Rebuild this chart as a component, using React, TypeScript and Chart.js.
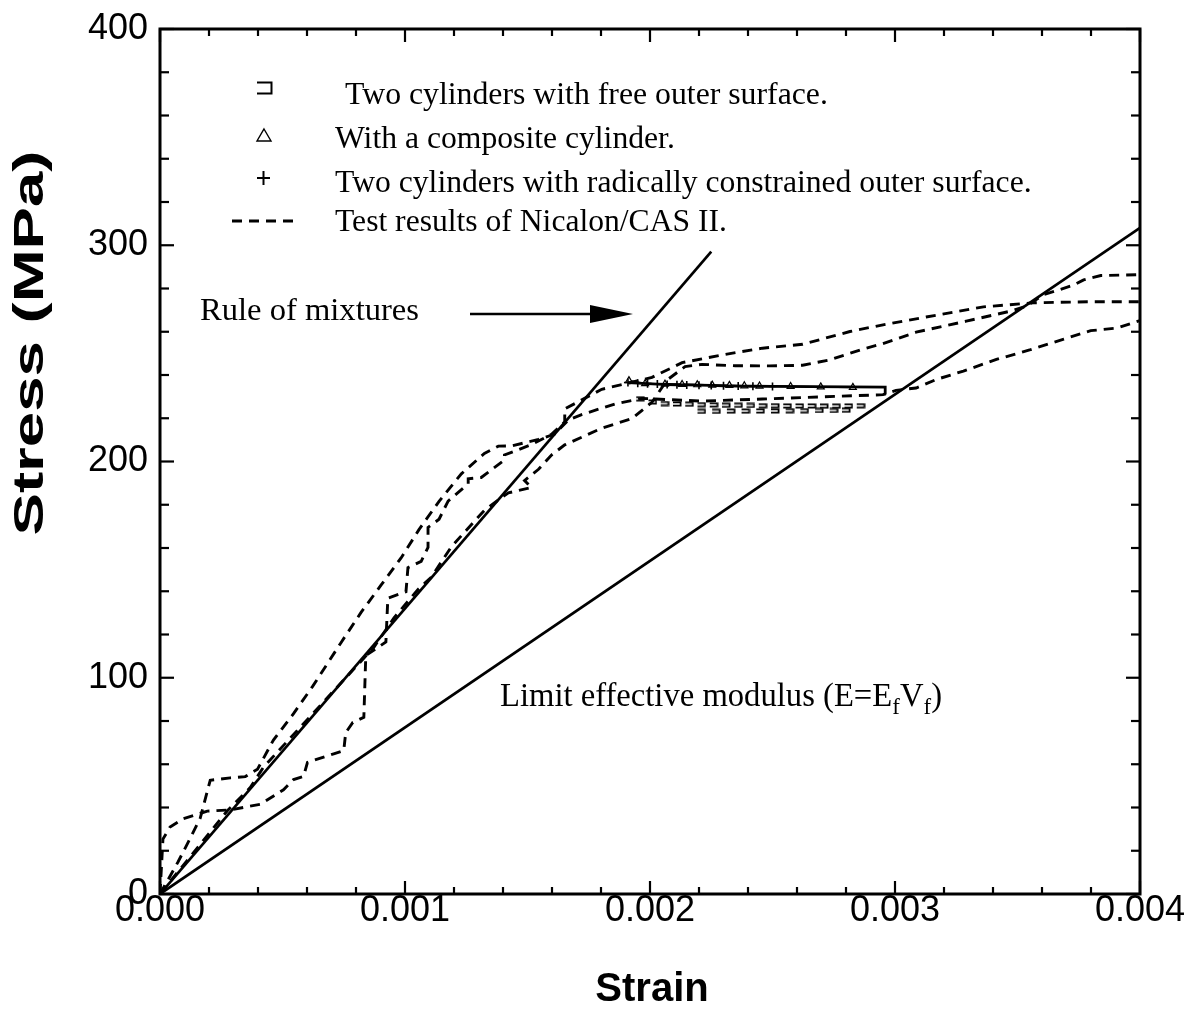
import React, { useEffect, useRef } from "react";
import { Chart, registerables } from "chart.js";

Chart.register(...registerables);

// Axis tick labels
const strainTickLabels = ["0.000", "0.001", "0.002", "0.003", "0.004"];
const stressTickLabels = ["0", "100", "200", "300", "400"];

// Rule of mixtures and limit effective modulus (E = Ef Vf)
const ruleStrain = [0, 0.00225];
const ruleStress = [0, 297];
const limitStrain = [0, 0.004];
const limitStress = [0, 308];

// Nicalon/CAS II test records (MPa vs strain)
const testAStrain = [
  0, 0.000074, 0.000123, 0.000164, 0.000193, 0.000205, 0.000287, 0.000348, 0.000398, 0.000463,
  0.000545, 0.000623, 0.000738, 0.00082, 0.000902, 0.000984, 0.001057, 0.001139, 0.00123, 0.001324,
  0.001381, 0.001434, 0.001545, 0.001611, 0.001668, 0.001721, 0.001857, 0.001967, 0.002213, 0.002459,
  0.002705, 0.002951, 0.003004, 0.003086, 0.003168, 0.003279, 0.003414, 0.003553, 0.003689, 0.003799,
  0.003906, 0.004,
];
const testAStress = [
  0, 14.9, 25.7, 35.0, 47.5, 52.6, 53.7, 54.3, 57.7, 71.2,
  83.4, 96.0, 116.1, 130.1, 142.8, 155.4, 168.5, 181.6, 194.3, 203.7,
  207.1, 207.2, 210.2, 212.7, 219.3, 221.7, 226.6, 229.2, 227.9, 228.9,
  229.9, 230.9, 232.9, 234.0, 237.9, 241.8, 247.2, 251.7, 256.6, 260.5,
  261.7, 265.2,
];

const testBStrain = [
  0, 0.000012, 0.000041, 0.000094, 0.000193, 0.000287, 0.00041, 0.000504, 0.000545, 0.000586,
  0.000602, 0.000709, 0.00075, 0.000758, 0.000787, 0.000832, 0.00084, 0.000922, 0.00093, 0.001004,
  0.001012, 0.001066, 0.001094, 0.001094, 0.001139, 0.001176, 0.001258, 0.001258, 0.001311, 0.001406,
  0.001406, 0.001516, 0.001598, 0.001652, 0.001652, 0.001803, 0.001918, 0.002008, 0.002131, 0.002295,
  0.002459, 0.002623, 0.002816, 0.002951, 0.003127, 0.003361, 0.003566, 0.003811, 0.004,
];
const testBStress = [
  0, 25.4, 31.0, 34.8, 38.3, 38.9, 41.5, 48.2, 52.9, 54.4,
  60.9, 64.8, 66.3, 74.6, 79.3, 81.7, 110.3, 116.5, 136.8, 139.8,
  150.9, 153.8, 160.3, 169.5, 173.3, 181.7, 189.7, 192.0, 192.6, 200.7,
  203.0, 207.8, 212.6, 218.3, 224.3, 233.4, 236.4, 238.9, 245.7, 249.3,
  252.4, 254.2, 260.1, 263.2, 266.8, 271.5, 273.4, 273.9, 273.9,
];

const testCStrain = [
  0, 0.000275, 0.000369, 0.000422, 0.000873, 0.000955, 0.001053, 0.001107, 0.001189, 0.00123,
  0.001324, 0.001381, 0.001422, 0.001516, 0.001488, 0.001545, 0.001598, 0.001652, 0.001803, 0.001926,
  0.002008, 0.00207, 0.002143, 0.002213, 0.002348, 0.002488, 0.002623, 0.002734, 0.002869, 0.002951,
  0.003086, 0.003291, 0.003471, 0.003537, 0.003607, 0.003676, 0.00373, 0.00377, 0.00384, 0.004,
];
const testCStress = [
  0, 38.5, 49.3, 58.6, 114.1, 127.7, 140.8, 146.5, 160.5, 165.7,
  177.4, 182.2, 185.5, 188.0, 191.2, 196.4, 203.0, 207.7, 215.4, 219.8,
  227.4, 237.7, 243.9, 244.9, 244.3, 244.2, 244.5, 247.0, 252.0, 254.5,
  259.8, 264.9, 269.5, 271.9, 277.2, 279.6, 281.6, 284.0, 286.0, 286.4,
];

// Model: two cylinders with free outer surface (two result rows)
const freeStrain = [
  0.00196, 0.00201, 0.00206, 0.00211, 0.00216, 0.00221, 0.00226, 0.00231, 0.00236, 0.00241,
  0.00246, 0.00251, 0.00256, 0.00261, 0.00266, 0.00271, 0.00276, 0.00281, 0.00286,
  0.00221, 0.00227, 0.00233, 0.00239, 0.00245, 0.00251, 0.00257, 0.00263, 0.00269, 0.00275, 0.0028,
];
const freeStress = [
  229.0, 227.5, 226.8, 226.6, 226.5, 226.3, 226.2, 226.0, 226.0, 225.9,
  225.8, 225.8, 225.7, 225.7, 225.7, 225.6, 225.6, 225.7, 225.8,
  223.2, 223.2, 223.3, 223.3, 223.4, 223.4, 223.5, 223.5, 223.6, 223.6, 223.7,
];

// Model: with a composite cylinder
const compStrain = [
  0.001914, 0.00198, 0.002061, 0.002131, 0.002193, 0.002254, 0.002324, 0.002385, 0.002447, 0.002574,
  0.002697, 0.002828,
];
const compStress = [237.4, 236.0, 235.8, 235.6, 235.5, 235.3, 235.2, 235.0, 234.9, 234.7, 234.5, 234.3];

// Model: two cylinders with radially constrained outer surface
const constStrain = [
  0.00191, 0.00195, 0.00199, 0.00203, 0.00207, 0.00211, 0.00215, 0.0022, 0.00225, 0.0023,
  0.00236, 0.00242, 0.0025, 0.00296, 0.00296,
];
const constStress = [
  236.5, 236.2, 236.0, 235.8, 235.6, 235.5, 235.4, 235.3, 235.2, 235.0,
  234.9, 234.8, 234.7, 234.4, 231.0,
];

const legendLabels = [
  "Two cylinders with free outer surface.",
  "With a composite cylinder.",
  "Two cylinders with radically constrained outer surface.",
  "Test results of Nicalon/CAS II.",
];

const SANS = '"Liberation Sans", Arial, sans-serif';
const SERIF = '"Liberation Serif", "Times New Roman", serif';

const pts = (xs: number[], ys: number[]) => xs.map((x, i) => ({ x, y: ys[i] }));

// open "⊐"-like marker used for the free outer surface model
function makeFreeMarker(w: number, h: number, lw: number) {
  const c = document.createElement("canvas");
  c.width = w;
  c.height = h;
  const g = c.getContext("2d")!;
  g.strokeStyle = "#000";
  g.lineWidth = lw;
  g.beginPath();
  g.moveTo(1, lw / 2 + 0.5);
  g.lineTo(w - lw / 2 - 0.5, lw / 2 + 0.5);
  g.lineTo(w - lw / 2 - 0.5, h - lw / 2 - 0.5);
  g.lineTo(1, h - lw / 2 - 0.5);
  g.stroke();
  return c;
}

function fitSize(ctx: CanvasRenderingContext2D, text: string, family: string, width: number, weight = "") {
  ctx.font = `${weight} 100px ${family}`;
  return (100 * width) / ctx.measureText(text).width;
}

const decorations = {
  id: "decorations",
  afterDraw(chart: any) {
    const { ctx, chartArea: a, scales } = chart;
    const xs = scales.x;
    const ys = scales.y;
    const seg = (x1: number, y1: number, x2: number, y2: number) => {
      ctx.beginPath();
      ctx.moveTo(x1, y1);
      ctx.lineTo(x2, y2);
      ctx.stroke();
    };
    ctx.save();
    ctx.strokeStyle = "#000";
    ctx.fillStyle = "#000";

    // frame
    ctx.lineWidth = 3;
    ctx.strokeRect(a.left, a.top, a.right - a.left, a.bottom - a.top);

    // inward tick marks on all four sides
    ctx.lineWidth = 2.2;
    for (let v = 0; v <= 400; v += 20) {
      const y = ys.getPixelForValue(v);
      const len = v % 100 === 0 ? 14 : 9;
      seg(a.left, y, a.left + len, y);
      seg(a.right, y, a.right - len, y);
    }
    for (let i = 0; i <= 20; i++) {
      const x = xs.getPixelForValue(i * 0.0002);
      const len = i % 5 === 0 ? 13 : 7;
      seg(x, a.bottom, x, a.bottom - len);
      seg(x, a.top, x, a.top + len);
    }

    // tick labels
    ctx.font = `36px ${SANS}`;
    ctx.textAlign = "right";
    ctx.textBaseline = "middle";
    stressTickLabels.forEach((t) => {
      ctx.fillText(t, a.left - 12, ys.getPixelForValue(Number(t)));
    });
    ctx.textAlign = "center";
    strainTickLabels.forEach((t) => {
      ctx.fillText(t, xs.getPixelForValue(Number(t)), a.bottom + 17);
    });

    // axis titles
    ctx.font = `bold 40px ${SANS}`;
    ctx.fillText("Strain", (a.left + a.right) / 2 + 2, 990);
    ctx.save();
    ctx.translate(31, 343);
    ctx.rotate(-Math.PI / 2);
    ctx.font = `bold 42px ${SANS}`;
    const yTitle = "Stress (MPa)";
    const stretch = 385 / ctx.measureText(yTitle).width;
    ctx.scale(stretch, 1);
    ctx.fillText(yTitle, 0, 0);
    ctx.restore();

    // legend
    ctx.textAlign = "left";
    ctx.textBaseline = "alphabetic";
    const rows = [
      { x: 345, base: 104, w: 483 },
      { x: 335, base: 148, w: 340 },
      { x: 335, base: 192, w: 697 },
      { x: 335, base: 231, w: 392 },
    ];
    rows.forEach((r, i) => {
      const s = fitSize(ctx, legendLabels[i], SERIF, r.w);
      ctx.font = `${s}px ${SERIF}`;
      ctx.fillText(legendLabels[i], r.x, r.base);
    });
    // legend symbols
    ctx.drawImage(makeFreeMarker(17, 14, 2), 256, 81);
    ctx.lineWidth = 1.4;
    ctx.beginPath();
    ctx.moveTo(264, 129);
    ctx.lineTo(271, 141);
    ctx.lineTo(257, 141);
    ctx.closePath();
    ctx.stroke();
    ctx.lineWidth = 2;
    seg(257, 178, 270, 178);
    seg(263.5, 171, 263.5, 185);
    ctx.lineWidth = 2.8;
    ctx.setLineDash([10, 7]);
    seg(232, 221, 293, 221);
    ctx.setLineDash([]);

    // Rule of mixtures annotation with arrow
    const rs = fitSize(ctx, "Rule of mixtures", SERIF, 219);
    ctx.font = `${rs}px ${SERIF}`;
    ctx.fillText("Rule of mixtures", 200, 320);
    ctx.lineWidth = 2.6;
    seg(470, 314, 600, 314);
    ctx.beginPath();
    ctx.moveTo(633, 314);
    ctx.lineTo(590, 305);
    ctx.lineTo(590, 323);
    ctx.closePath();
    ctx.fill();

    // Limit effective modulus annotation with subscripts
    const main = "Limit effective modulus (E=E";
    ctx.font = `100px ${SERIF}`;
    const wMain = ctx.measureText(main).width;
    const wV = ctx.measureText("V").width;
    const wP = ctx.measureText(")").width;
    ctx.font = `70px ${SERIF}`;
    const wF = ctx.measureText("f").width;
    const F = (100 * 442) / (wMain + wV + wP + 2 * wF);
    const k = F / 100;
    let x = 500;
    const base = 706;
    ctx.font = `${F}px ${SERIF}`;
    ctx.fillText(main, x, base);
    x += wMain * k;
    ctx.font = `${F * 0.7}px ${SERIF}`;
    ctx.fillText("f", x, base + 8);
    x += wF * k;
    ctx.font = `${F}px ${SERIF}`;
    ctx.fillText("V", x, base);
    x += wV * k;
    ctx.font = `${F * 0.7}px ${SERIF}`;
    ctx.fillText("f", x, base + 8);
    x += wF * k;
    ctx.font = `${F}px ${SERIF}`;
    ctx.fillText(")", x, base);

    ctx.restore();
  },
};

export default function App() {
  const ref = useRef<HTMLCanvasElement>(null);

  useEffect(() => {
    const canvas = ref.current!;
    const dashed = {
      showLine: true,
      borderColor: "#000",
      borderWidth: 2.9,
      borderDash: [10, 7],
      pointRadius: 0,
      tension: 0,
    };
    const solid = {
      showLine: true,
      borderColor: "#000",
      borderWidth: 2.7,
      pointRadius: 0,
      tension: 0,
    };
    const chart = new Chart(canvas, {
      type: "scatter",
      data: {
        datasets: [
          { label: "Test A", data: pts(testAStrain, testAStress), ...dashed },
          { label: "Test B", data: pts(testBStrain, testBStress), ...dashed },
          { label: "Test C", data: pts(testCStrain, testCStress), ...dashed },
          { label: "Rule of mixtures", data: pts(ruleStrain, ruleStress), ...solid },
          { label: "Limit effective modulus", data: pts(limitStrain, limitStress), ...solid },
          {
            label: "Free outer surface",
            data: pts(freeStrain, freeStress),
            showLine: false,
            pointStyle: makeFreeMarker(10, 6, 1.8) as any,
            pointRadius: 4,
          },
          {
            label: "Radially constrained outer surface",
            data: pts(constStrain, constStress),
            showLine: true,
            borderColor: "#000",
            borderWidth: 2.8,
            pointStyle: "cross",
            pointRadius: constStrain.map((_, i) => (i < constStrain.length - 2 ? 4 : 0)),
            pointBorderWidth: 1.6,
            pointBorderColor: "#000",
          },
          {
            label: "Composite cylinder",
            data: pts(compStrain, compStress),
            showLine: true,
            borderColor: "#000",
            borderWidth: 1.8,
            pointStyle: "triangle",
            pointRadius: 4,
            pointBorderWidth: 1.2,
            pointBorderColor: "#000",
            pointBackgroundColor: "#fff",
          },
        ],
      },
      options: {
        animation: false,
        responsive: false,
        devicePixelRatio: 1,
        layout: { padding: { top: 29, right: 44, left: 0, bottom: 0 } },
        plugins: { legend: { display: false }, tooltip: { enabled: false } },
        scales: {
          x: {
            type: "linear",
            min: 0,
            max: 0.004,
            grid: { display: false },
            border: { display: false },
            ticks: { display: false },
            afterFit: (s: any) => {
              s.height = 120;
            },
          },
          y: {
            type: "linear",
            min: 0,
            max: 400,
            grid: { display: false },
            border: { display: false },
            ticks: { display: false },
            afterFit: (s: any) => {
              s.width = 160;
            },
          },
        },
      },
      plugins: [decorations],
    } as any);
    return () => chart.destroy();
  }, []);

  return (
    <div style={{ position: "fixed", left: 0, top: 0, width: 1184, height: 1014, background: "#fff" }}>
      <canvas ref={ref} width={1184} height={1014} style={{ display: "block", width: 1184, height: 1014 }} />
    </div>
  );
}
